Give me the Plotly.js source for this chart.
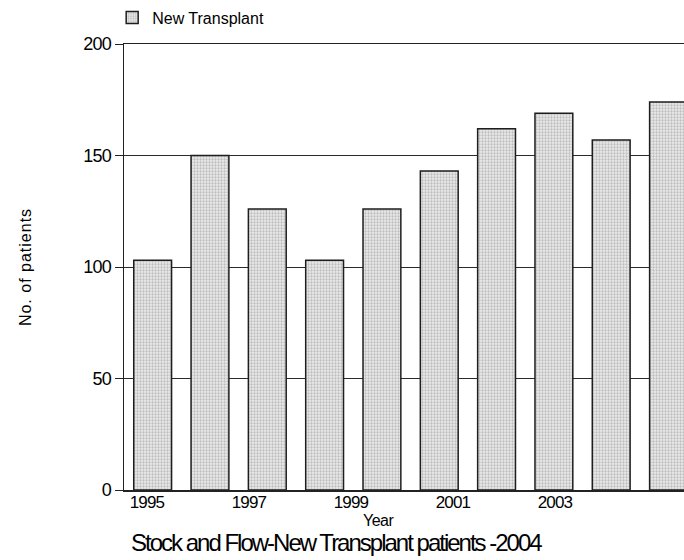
<!DOCTYPE html>
<html>
<head>
<meta charset="utf-8">
<script src="https://cdn.plot.ly/plotly-3.0.1.min.js"></script>
<style>
  html, body { margin: 0; padding: 0; background: #ffffff; overflow: hidden; }
  #chart { width: 684px; height: 560px; }
  #chart .gtitle { letter-spacing: -2px; }
  #chart .ytick text, #chart .x2tick text { letter-spacing: -0.8px; }
  #chart .annotation-text { letter-spacing: -0.5px; }
  #chart .ytitle { letter-spacing: 1px; }
</style>
</head>
<body>
<div id="chart"></div>
<script>
// ---- data ----
const years = [1995, 1996, 1997, 1998, 1999, 2000, 2001, 2002, 2003, 2004];
const newTransplant = [103, 150, 126, 103, 126, 143, 162, 169, 157, 174];
const seriesName = "New Transplant";
const yearTickValues = [1995, 1997, 1999, 2001, 2003];
const yearTickLabels = ["1995", "1997", "1999", "2001", "2003"];
const yTickValues = [0, 50, 100, 150, 200];
const chartTitle = "Stock and Flow-New Transplant patients -2004";
const xTitle = "Year";
const yTitle = "No. of patients";

const sans = '"Liberation Sans", Arial, sans-serif';

const traces = [
  {
    type: "bar",
    name: seriesName,
    x: years,
    y: newTransplant,
    marker: {
      color: "#dedede",
      line: { color: "#1e1e1e", width: 1.5 },
      pattern: { shape: ".", fgcolor: "#bdbdbd", bgcolor: "#ececec", size: 3, solidity: 0.45 }
    },
    hoverinfo: "x+y"
  },
  {
    type: "scatter",
    x: [],
    y: [],
    xaxis: "x2",
    yaxis: "y",
    showlegend: false,
    hoverinfo: "skip"
  }
];

const layout = {
  width: 684,
  height: 560,
  paper_bgcolor: "#ffffff",
  plot_bgcolor: "#ffffff",
  margin: { l: 124, r: 0, t: 44, b: 70, pad: 0 },
  bargap: 0.34,
  showlegend: true,
  legend: {
    orientation: "h",
    xref: "container",
    yref: "container",
    x: 0.164,
    y: 0.999,
    xanchor: "left",
    yanchor: "top",
    font: { family: sans, size: 16, color: "#000" },
    bgcolor: "rgba(0,0,0,0)",
    itemwidth: 30
  },
  title: {
    text: chartTitle,
    font: { family: sans, size: 24, color: "#000" },
    xref: "container",
    yref: "container",
    x: 0.491,
    xanchor: "center",
    y: 0.016,
    yanchor: "bottom"
  },
  xaxis: {
    type: "linear",
    range: [1994.5, 2004.27],
    showticklabels: false,
    ticks: "",
    showgrid: false,
    zeroline: false,
    showline: true,
    mirror: true,
    linecolor: "#222",
    linewidth: 1.5,
    fixedrange: true
  },
  xaxis2: {
    overlaying: "x",
    anchor: "y",
    side: "bottom",
    type: "linear",
    range: [1994.55, 2005.53],
    tickmode: "array",
    tickvals: yearTickValues,
    ticktext: yearTickLabels,
    ticks: "",
    showgrid: false,
    zeroline: false,
    showline: false,
    tickfont: { family: sans, size: 17, color: "#000" },
    fixedrange: true
  },
  yaxis: {
    range: [0, 200],
    tickmode: "array",
    tickvals: yTickValues,
    ticks: "outside",
    ticklen: 8,
    tickcolor: "#222",
    tickwidth: 1,
    showline: true,
    linecolor: "#222",
    linewidth: 1.5,
    showgrid: true,
    gridcolor: "#2a2a2a",
    gridwidth: 1,
    zeroline: false,
    tickfont: { family: sans, size: 18, color: "#000" },
    title: {
      text: yTitle,
      font: { family: sans, size: 16, color: "#000" },
      standoff: 45
    },
    automargin: false,
    fixedrange: true
  },
  annotations: [
    {
      text: xTitle,
      xref: "paper",
      yref: "paper",
      x: 0.455,
      y: -0.045,
      xanchor: "center",
      yanchor: "top",
      showarrow: false,
      font: { family: sans, size: 16, color: "#000" }
    }
  ]
};

Plotly.newPlot("chart", traces, layout, { displayModeBar: false, responsive: false, staticPlot: true });
</script>
</body>
</html>
